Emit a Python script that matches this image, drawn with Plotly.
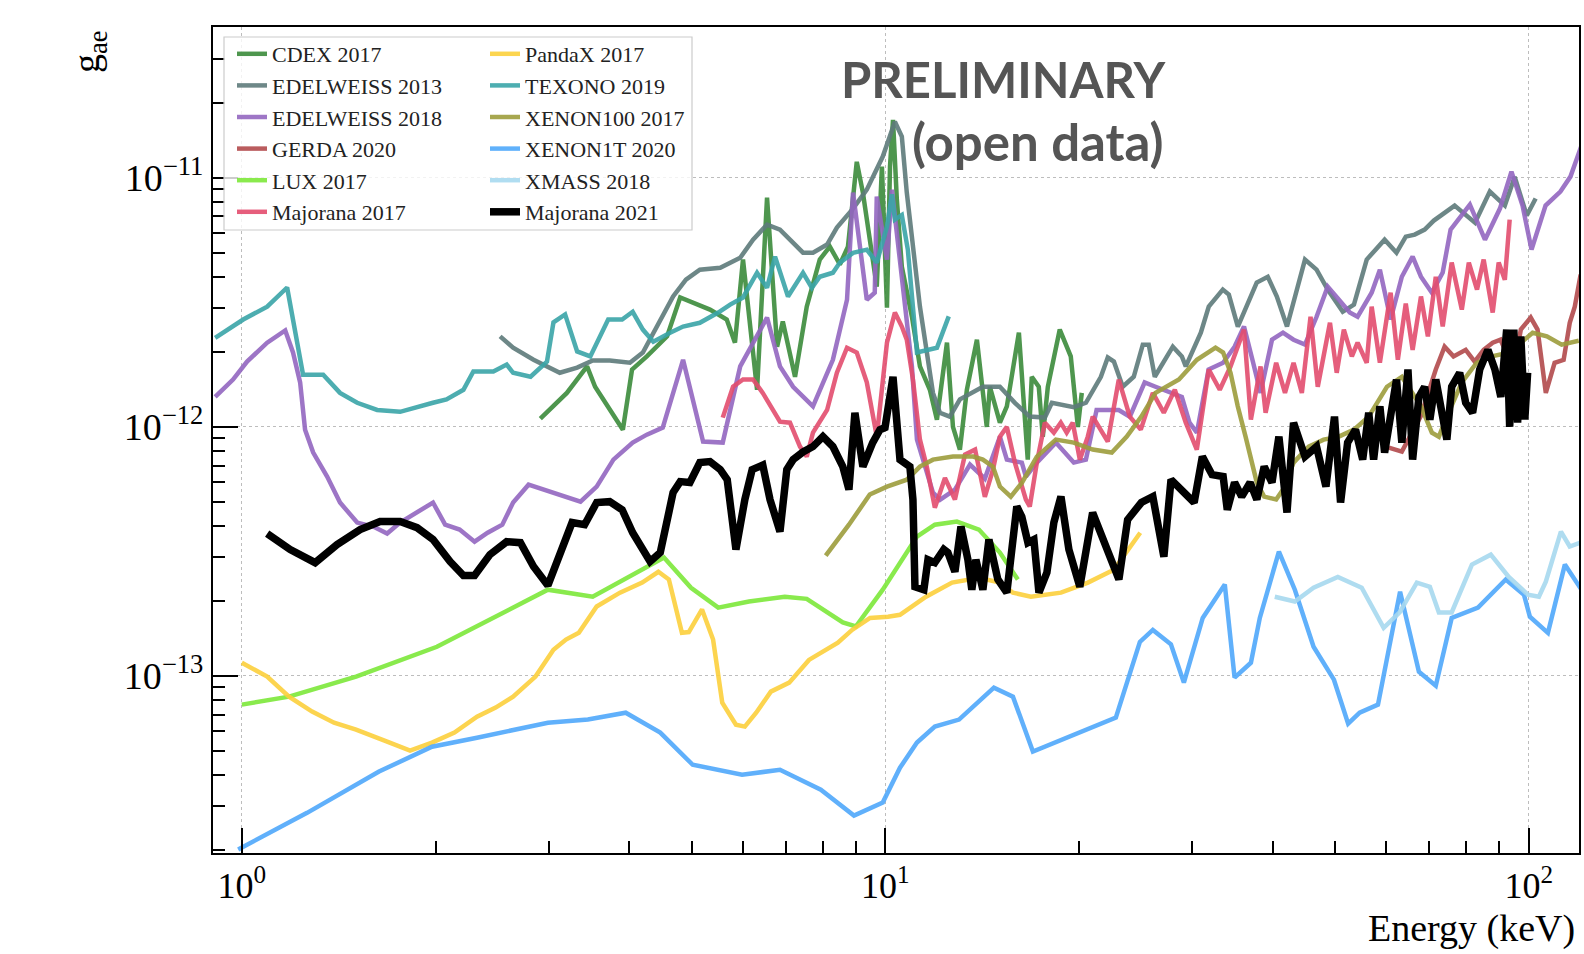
import numpy as np
import plotly.graph_objects as go

UNIT = 1e-12  # g_ae values below are given in units of 1e-12

# ---------------- data (Energy in keV, g_ae in units of 1e-12) ----------------
cdex_E = [2.91, 3.20, 3.44, 3.54, 3.91, 4.04, 4.26, 4.58, 4.80, 4.97, 5.34, 5.67, 5.84, 6.01, 6.32,
          6.55, 6.79, 6.93, 7.24, 7.55, 7.91, 8.20, 8.50, 8.75, 9.03, 9.23, 9.70, 9.88, 10.06, 10.17,
          10.28, 10.42, 10.61, 11.00, 11.32, 11.73, 12.03, 12.47, 12.74, 13.06, 13.39, 13.88, 14.38,
          14.54, 15.07, 15.45, 16.13, 16.65, 16.89, 17.32, 17.57, 17.89, 18.67, 19.42, 19.92, 20.20]
cdex_g = [1.08, 1.37, 1.75, 1.45, 0.975, 1.70, 1.92, 2.31, 3.31, 3.19, 2.96, 2.70, 2.18, 4.70, 1.41,
          8.34, 2.10, 2.65, 1.59, 3.04, 4.70, 5.30, 4.49, 5.30, 11.6, 8.73, 3.66, 11.1, 3.01, 11.1,
          17.1, 8.26, 4.40, 2.77, 1.75, 1.41, 1.07, 2.18, 1.0, 0.81, 1.41, 2.24, 1.0,
          1.45, 1.04, 1.21, 2.39, 0.739, 1.59, 1.45, 0.914, 1.45, 2.46, 1.92, 1.0, 1.37]

edel13_E = [2.52, 2.64, 2.84, 3.12, 3.32, 3.51, 3.73, 4.01, 4.20, 4.47, 4.68, 4.90, 5.15, 5.54, 5.95,
            6.23, 6.55, 6.86, 7.11, 7.45, 7.72, 8.12, 8.41, 8.91, 9.36, 9.91, 10.35, 10.61, 10.80, 11.00,
            11.32, 11.86, 12.16, 12.60, 13.06, 14.18, 15.07, 15.90, 16.77, 17.70, 18.15, 19.63, 20.50,
            21.63, 22.17, 22.66, 23.39, 24.33, 25.13, 25.67, 26.23, 27.98, 28.90, 29.31, 30.93, 31.82,
            33.46, 34.19, 35.31, 37.78, 39.30, 40.6, 42.1, 44.9, 46.8, 48.7, 51.4, 53.5, 54.8, 56.0,
            57.8, 59.7, 62.3, 64.4, 66.5, 68.9, 71.2, 76.7, 82.5, 87.0, 91.8, 95.1, 99.3, 102.5]
edel13_g = [2.31, 2.08, 1.86, 1.65, 1.73, 1.85, 1.85, 1.81, 1.99, 2.68, 3.34, 3.90, 4.28, 4.36, 4.78,
            5.65, 6.49, 6.20, 5.65, 5.01, 5.01, 5.40, 6.32, 7.53, 8.97, 12.18, 16.8, 14.65, 8.73, 5.65,
            3.04, 1.37, 1.14, 1.10, 1.29, 1.45, 1.45, 1.25, 1.10, 1.09, 1.25, 1.20, 1.25,
            1.59, 1.90, 1.83, 1.45, 1.59, 2.14, 2.14, 1.59, 2.10, 1.92, 1.75, 2.39, 3.04,
            3.56, 3.40, 2.53, 3.80, 4.01, 3.34, 2.53, 4.70, 4.28, 3.56, 2.90, 3.10, 3.80, 4.70,
            5.15, 5.65, 5.01, 5.81, 5.92, 6.20, 6.74, 7.74, 6.61, 8.81, 7.74, 10.1, 7.06, 8.26]

edel18_E = [0.909, 0.969, 1.019, 1.095, 1.168, 1.201, 1.232, 1.241, 1.254, 1.291, 1.357, 1.421, 1.511,
            1.600, 1.682, 1.762, 1.872, 1.982, 2.07, 2.18, 2.30, 2.41, 2.54, 2.64, 2.79, 3.01, 3.36,
            3.56, 3.78, 4.05, 4.26, 4.51, 4.85, 5.21, 5.59, 5.95, 6.55, 6.86, 7.19, 7.72, 8.29, 8.72,
            8.91, 9.36, 9.63, 9.70, 10.06, 10.24, 10.42, 10.61, 11.00, 11.20, 11.52, 11.86, 12.16,
            12.83, 13.54, 14.28, 15.07, 15.45, 16.30, 16.54, 17.20, 18.41, 19.63, 20.50, 21.3, 23.06,
            23.99, 25.3, 26.3, 27.8, 28.9, 29.7, 30.5, 31.8, 33.5, 34.9, 36.1, 37.3, 38.3, 39.9, 41.5,
            43.1, 44.9, 46.8, 48.7, 50.7, 52.7, 54.2, 57.0, 58.7, 61.0, 63.5, 66.0, 68.0, 70.7, 73.5,
            75.6, 81.0, 85.5, 90.2, 94.0, 97.8, 101.0, 106.2, 112.0, 116.1, 120.8]
edel18_g = [1.32, 1.55, 1.83, 2.18, 2.44, 1.99, 1.51, 1.25, 0.975, 0.789, 0.632, 0.497, 0.413,
            0.398, 0.373, 0.413, 0.453, 0.497, 0.405, 0.387, 0.346, 0.376, 0.405, 0.497, 0.586, 0.550, 0.501,
            0.576, 0.739, 0.865, 0.931, 0.994, 1.86, 0.873, 0.865, 1.75, 2.75, 1.75, 1.45, 1.21, 1.86, 3.24,
            8.73, 3.24, 3.46, 8.41, 4.70, 8.97, 6.03, 3.66, 1.75, 0.889, 0.693, 0.545, 0.510,
            0.56, 0.706, 0.62, 0.914, 0.739, 0.719, 0.632, 0.719, 0.865, 0.719, 0.739, 1.17, 1.17,
            1.10, 1.51, 1.45, 1.37, 1.32, 1.04, 0.949, 1.70, 1.81, 2.10, 2.53, 1.81, 1.37, 2.24, 2.39,
            2.24, 2.14, 2.77, 3.66, 3.24, 2.88, 2.77, 3.46, 4.28, 2.70, 4.01, 4.83, 4.01, 3.46, 4.17,
            6.20, 7.81, 5.65, 7.53, 10.6, 7.74, 5.15, 7.74, 8.81, 10.12, 13.5]

gerda_E = [60.6, 63.5, 67.9, 71.7, 74.0, 76.4, 79.8, 82.4, 85.1, 87.9, 90.4, 94.8, 97.2, 100.7, 103.2,
           106.3, 109.7, 113.3, 115.8, 117.9, 120.4]
gerda_g = [0.826, 0.796, 1.10, 1.70, 2.10, 1.92, 2.04, 1.83, 2.04, 2.18, 2.24, 1.70, 2.46, 2.75, 2.46,
           1.37, 1.81, 1.86, 2.62, 3.04, 4.09]

lux_E = [1.0, 1.184, 1.505, 2.01, 2.99, 3.51, 4.53, 4.99, 5.50, 6.14, 6.98, 7.55, 8.59, 9.00, 9.91,
         10.54, 11.20, 11.94, 12.92, 13.98, 15.07, 16.07]
lux_g = [0.0767, 0.0826, 0.0994, 0.131, 0.222, 0.208, 0.299, 0.226, 0.188, 0.199, 0.208, 0.204, 0.164,
         0.158, 0.222, 0.285, 0.363, 0.405, 0.417, 0.387, 0.313, 0.244]

maj17_E = [5.59, 5.80, 6.01, 6.23, 6.45, 6.69, 6.86, 7.11, 7.37, 7.55, 7.72, 8.12, 8.41, 8.72, 9.03,
           9.36, 9.70, 10.06, 10.35, 10.61, 10.80, 11.04, 11.32, 11.60, 11.94, 12.38, 12.83, 13.30, 13.79,
           14.28, 14.70, 15.07, 15.45, 15.90, 16.54, 16.77, 17.20, 17.70, 18.28, 18.74, 19.14, 19.56,
           20.06, 20.64, 21.01, 22.17, 23.06, 23.99, 24.95, 26.05, 27.09, 28.18, 29.31, 30.49, 31.82,
           33.1, 34.4, 36.1, 37.0, 38.3, 39.0, 40.5, 41.8, 43.1, 44.4, 45.8, 47.0, 49.1, 50.3, 51.6,
           53.1, 54.2, 56.0, 57.0, 58.7, 61.0, 62.6, 64.4, 66.0, 68.0, 69.7, 71.7, 73.5, 75.9, 78.7,
           80.7, 83.1, 85.1, 87.9, 89.8, 91.8, 93.4]
maj17_g = [1.09, 1.45, 1.55, 1.55, 1.37, 1.17, 1.05, 1.04, 0.834, 0.760, 0.949, 1.17, 1.65, 2.08, 1.99,
           1.51, 0.914, 2.18, 2.88, 2.53, 2.24, 1.55, 0.889, 0.693, 0.474, 0.624, 0.511, 0.774, 0.811,
           0.524, 0.674, 0.914, 1.0, 0.719, 0.511, 0.479, 0.719, 1.04, 0.949, 1.04, 0.949, 1.04,
           0.739, 0.914, 1.10, 0.873, 1.55, 1.10, 0.975, 1.37, 1.14, 1.41, 1.04, 0.811, 1.70,
           1.41, 1.75, 2.46, 1.07, 1.75, 1.14, 1.81, 1.37, 1.81, 1.37, 2.77, 1.45, 2.62, 1.65, 2.46,
           1.92, 2.18, 1.81, 3.04, 1.81, 3.46, 1.86, 3.13, 2.04, 3.34, 2.31, 4.01, 2.53, 4.57, 2.96,
           4.57, 3.56, 4.70, 2.88, 4.57, 3.90, 6.80]

pandax_E = [1.0, 1.095, 1.184, 1.286, 1.391, 1.505, 1.682, 1.826, 1.975, 2.14, 2.32, 2.48, 2.64, 2.86,
            3.05, 3.19, 3.34, 3.56, 3.87, 4.19, 4.44, 4.61, 4.83, 4.95, 5.19, 5.40, 5.58, 5.86, 6.05,
            6.30, 6.64, 7.09, 7.61, 8.06, 8.44, 8.88, 9.47, 10.10, 10.54, 11.57, 12.70, 13.98, 15.07,
            15.79, 16.84, 18.75, 20.65, 22.66, 24.9]
pandax_g = [0.113, 0.0994, 0.0826, 0.0719, 0.0649, 0.0609, 0.0545, 0.0501, 0.0540, 0.0592, 0.0686,
            0.0746, 0.0826, 0.0994, 0.1275, 0.140, 0.149, 0.190, 0.216, 0.237, 0.262, 0.244, 0.149,
            0.150, 0.185, 0.140, 0.0781, 0.0637, 0.0626, 0.0712, 0.0865, 0.0940, 0.116, 0.1275, 0.136,
            0.153, 0.171, 0.173, 0.176, 0.208, 0.237, 0.248, 0.237, 0.216, 0.208, 0.216, 0.237, 0.267,
            0.376]

texono_E = [0.909, 1.005, 1.095, 1.176, 1.245, 1.338, 1.421, 1.511, 1.623, 1.762, 1.982, 2.08, 2.21,
            2.29, 2.46, 2.58, 2.64, 2.81, 2.98, 3.05, 3.18, 3.32, 3.48, 3.71, 3.90, 4.05, 4.20, 4.36,
            4.63, 4.85, 5.15, 5.50, 5.74, 6.01, 6.32, 6.55, 6.74, 7.06, 7.45, 7.69, 7.91, 8.29, 8.50,
            8.91, 9.36, 9.70, 10.06, 10.24, 10.35, 10.61, 10.84, 11.20, 12.03, 12.29, 12.55]
texono_g = [2.28, 2.70, 3.04, 3.63, 1.62, 1.62, 1.37, 1.25, 1.17, 1.15, 1.25, 1.29, 1.41, 1.67, 1.67,
            1.78, 1.65, 1.59, 1.83, 2.63, 2.83, 2.01, 1.92, 2.70, 2.70, 2.90, 2.46, 2.20, 2.39, 2.53,
            2.62, 2.88, 3.10, 3.31, 4.16, 3.62, 4.83, 3.34, 4.16, 3.62, 4.01, 4.16, 4.57, 5.0, 5.15,
            4.57, 6.37, 8.6, 6.80, 7.1, 5.15, 1.99, 2.08, 2.39, 2.78]

xe100_E = [8.08, 8.78, 9.46, 10.06, 10.80, 11.32, 11.86, 12.74, 13.69, 14.18, 14.70, 15.07, 15.67, 16.30,
           17.20, 18.41, 19.63, 21.01, 22.49, 23.73, 25.0, 26.3, 28.6, 30.5, 32.6, 33.5, 34.4, 35.3,
           36.3, 37.8, 38.8, 40.5, 41.5, 43.1, 45.5, 48.0, 50.7, 53.5, 56.4, 60.2, 63.5, 68.0, 70.7,
           72.5, 74.6, 78.7, 83.0, 87.6, 93.4, 97.2, 101.4, 106.7, 112.5, 119.6]
xe100_g = [0.304, 0.405, 0.535, 0.576, 0.614, 0.693, 0.739, 0.760, 0.760, 0.739, 0.693, 0.576, 0.525,
           0.596, 0.760, 0.889, 0.865, 0.811, 0.789, 0.914, 1.10, 1.37, 1.55, 1.86, 2.08, 1.99, 1.65,
           1.21, 0.914, 0.596, 0.525, 0.511, 0.560, 0.719, 0.834, 0.889, 0.914, 0.975, 1.10, 1.45, 1.59,
           1.21, 0.949, 0.914, 1.10, 1.51, 1.81, 1.92, 1.99, 2.18, 2.39, 2.31, 2.14, 2.22]

xe1t_E = [0.987, 1.263, 1.634, 1.975, 2.32, 2.99, 3.45, 3.95, 4.47, 5.02, 5.99, 6.86, 7.94, 8.94, 9.91,
          10.54, 11.20, 11.94, 13.02, 14.75, 15.79, 16.96, 22.82, 24.87, 26.05, 27.79, 29.11, 31.14, 33.7,
          34.9, 37.0, 38.2, 40.9, 43.3, 46.3, 49.8, 52.4, 54.6, 58.3, 63.1, 67.5, 71.7, 75.9, 83.4,
          92.1, 98.3, 100.4, 107.1, 113.8, 121.3]
xe1t_g = [0.0201, 0.0282, 0.0413, 0.0520, 0.0565, 0.0649, 0.0668, 0.0712, 0.0592, 0.0440, 0.0401,
          0.0420, 0.0349, 0.0275, 0.0310, 0.0428, 0.0540, 0.0626, 0.0668, 0.0897, 0.0826, 0.0497,
          0.0680, 0.137, 0.153, 0.134, 0.0940, 0.171, 0.233, 0.0985, 0.113, 0.171, 0.316, 0.222, 0.131,
          0.0966, 0.0643, 0.0712, 0.0767, 0.218, 0.104, 0.0914, 0.171, 0.188, 0.244, 0.212, 0.173,
          0.149, 0.280, 0.218]

xmass_E = [40.3, 43.3, 46.3, 50.5, 55.0, 59.5, 63.0, 67.0, 70.2, 72.5, 75.9, 81.6, 87.3, 93.1, 99.7,
           103.7, 106.3, 112.2, 115.8, 120.4]
xmass_g = [0.208, 0.199, 0.226, 0.250, 0.226, 0.156, 0.180, 0.237, 0.228, 0.180, 0.180, 0.280, 0.307,
           0.250, 0.212, 0.208, 0.239, 0.380, 0.331, 0.343]

maj21_E = [1.095, 1.189, 1.300, 1.406, 1.527, 1.640, 1.762, 1.872, 1.982, 2.107, 2.21, 2.30, 2.43, 2.58,
           2.71, 2.84, 2.99, 3.12, 3.26, 3.41, 3.56, 3.73, 3.90, 4.05, 4.31, 4.47, 4.68, 4.80, 4.97,
           5.15, 5.34, 5.54, 5.68, 5.86, 6.05, 6.21, 6.45, 6.62, 6.86, 7.03, 7.19, 7.45, 7.72, 8.00,
           8.29, 8.59, 8.78, 8.97, 9.23, 9.56, 9.81, 9.99, 10.28, 10.54, 10.92, 11.04, 11.12, 11.48,
           11.65, 11.94, 12.33, 12.51, 12.83, 13.11, 13.44, 13.63, 13.83, 14.18, 14.49, 14.96, 15.45,
           16.01, 16.30, 16.66, 17.02, 17.33, 17.83, 18.28, 18.75, 19.29, 20.06, 21.0, 22.2, 23.07,
           23.8, 25.0, 26.05, 27.1, 27.8, 28.9, 30.2, 31.1, 32.2, 33.5, 34.0, 34.9, 35.8, 36.9, 37.8,
           38.8, 39.9, 40.9, 42.1, 43.1, 44.9, 46.8, 48.4, 49.9, 51.0, 52.3, 53.8, 55.2, 56.4, 57.4,
           58.7, 59.7, 61.0, 62.3, 63.5, 64.9, 66.0, 67.5, 68.9, 70.2, 71.7, 73.5, 74.6, 75.9, 78.1,
           79.8, 81.8, 83.9, 86.4, 88.6, 90.5, 92.4, 93.4, 94.8, 96.1, 97.2, 98.6, 99.6]
maj21_g = [0.373, 0.322, 0.285, 0.337, 0.387, 0.417, 0.417, 0.394, 0.353, 0.288, 0.253, 0.253, 0.307,
           0.346, 0.343, 0.275, 0.231, 0.307, 0.413, 0.405, 0.497, 0.501, 0.465, 0.376, 0.288, 0.313,
           0.545, 0.603, 0.598, 0.719, 0.726, 0.674, 0.614, 0.322, 0.511, 0.674, 0.703, 0.511, 0.380,
           0.674, 0.739, 0.793, 0.834, 0.914, 0.834, 0.693, 0.560, 1.14, 0.693, 0.865, 0.975, 0.994,
           1.59, 0.739, 0.693, 0.511, 0.228, 0.222, 0.293, 0.285, 0.322, 0.313, 0.262, 0.398, 0.293,
           0.222, 0.293, 0.222, 0.353, 0.244, 0.216, 0.479, 0.436, 0.343, 0.353, 0.216, 0.260, 0.413,
           0.525, 0.322, 0.228, 0.453, 0.322, 0.244, 0.424, 0.497, 0.525, 0.301, 0.614, 0.560, 0.497,
           0.760, 0.643, 0.632, 0.465, 0.598, 0.525, 0.598, 0.511, 0.693, 0.598, 0.914, 0.453, 1.04,
           0.760, 0.834, 0.576, 1.10, 0.497, 0.865, 0.975, 0.739, 1.14, 0.739, 1.21, 0.789, 1.10,
           1.55, 0.865, 1.70, 0.739, 1.32, 1.45, 1.07, 1.55, 1.10, 0.889, 1.45, 1.65, 1.25, 1.14,
           1.70, 2.04, 1.70, 1.32, 2.46, 1.0, 2.46, 1.04, 2.31, 1.07, 1.65]

# axis tick labels
x_tick_vals = [1, 10, 100]
x_tick_text = ["10<sup>0</sup>", "10<sup>1</sup>", "10<sup>2</sup>"]
y_tick_vals = [1e-13, 1e-12, 1e-11]
y_tick_text = ["10<sup>\u221213</sup>", "10<sup>\u221212</sup>", "10<sup>\u221211</sup>"]

# ---------------- styling ----------------
SERIF = "Liberation Serif, Times New Roman, serif"
series = [
    ("CDEX 2017", cdex_E, cdex_g, "#3b8b3b", 4.5, "legend"),
    ("EDELWEISS 2013", edel13_E, edel13_g, "#5e7b7b", 4.5, "legend"),
    ("EDELWEISS 2018", edel18_E, edel18_g, "#9367c0", 4.5, "legend"),
    ("GERDA 2020", gerda_E, gerda_g, "#b24a4c", 4.5, "legend"),
    ("LUX 2017", lux_E, lux_g, "#7de83a", 4.5, "legend"),
    ("Majorana 2017", maj17_E, maj17_g, "#e34d6e", 4.5, "legend"),
    ("PandaX 2017", pandax_E, pandax_g, "#fcd03c", 4.5, "legend2"),
    ("TEXONO 2019", texono_E, texono_g, "#3aa5a8", 4.5, "legend2"),
    ("XENON100 2017", xe100_E, xe100_g, "#9d9d3c", 4.5, "legend2"),
    ("XENON1T 2020", xe1t_E, xe1t_g, "#4fa8fb", 4.5, "legend2"),
    ("XMASS 2018", xmass_E, xmass_g, "#a7d9ef", 4.5, "legend2"),
    ("Majorana 2021", maj21_E, maj21_g, "#000000", 7.5, "legend2"),
]

fig = go.Figure()
for name, E, g, color, width, leg in series:
    fig.add_trace(go.Scatter(
        x=E, y=np.array(g) * UNIT, mode="lines", name=name,
        line=dict(color=color, width=width),
        opacity=1.0 if color == "#000000" else 0.9,
        legend=leg,
    ))

PLOT_L, PLOT_R, PLOT_T, PLOT_B = 213, 1579, 27, 853
W, H = 1584, 954
pw, ph = PLOT_R - PLOT_L, PLOT_B - PLOT_T


def px_x(x):
    return (x - PLOT_L) / pw


def px_y(y):
    return (PLOT_B - y) / ph


x_minor = [m * 10.0 ** d for d in (0, 1) for m in range(2, 10)]
y_minor = [m * 10.0 ** d for d in (-14, -13, -12, -11) for m in range(2, 10)]

axis_common = dict(
    showline=True, linecolor="black", linewidth=2, mirror=True,
    ticks="inside", ticklen=25, tickwidth=1.5, tickcolor="black",
    showgrid=True, gridcolor="#bdbdbd", griddash="dot", gridwidth=1.3,
    zeroline=False,
)

fig.update_xaxes(
    type="log", range=[np.log10(0.902), np.log10(119.7)],
    tickmode="array", tickvals=x_tick_vals, ticktext=x_tick_text,
    tickfont=dict(family=SERIF, size=36, color="black"),
    minor=dict(ticks="inside", ticklen=12, tickwidth=1.5, tickcolor="black",
               tickmode="array", tickvals=x_minor, showgrid=False),
    **axis_common,
)
fig.update_yaxes(
    type="log", range=[-13.711, -10.394],
    tickmode="array", tickvals=y_tick_vals, ticktext=y_tick_text,
    tickfont=dict(family=SERIF, size=38, color="black"),
    minor=dict(ticks="inside", ticklen=12, tickwidth=1.5, tickcolor="black",
               tickmode="array", tickvals=y_minor, showgrid=False),
    **axis_common,
)

legend_common = dict(
    bgcolor="rgba(0,0,0,0)", borderwidth=0,
    font=dict(family=SERIF, size=22, color="#222222"),
    xanchor="left", yanchor="top", itemwidth=30, orientation="v",
)

fig.update_layout(
    width=W, height=H,
    margin=dict(l=PLOT_L, r=W - PLOT_R, t=PLOT_T, b=H - PLOT_B, autoexpand=False),
    plot_bgcolor="white", paper_bgcolor="white",
    showlegend=True,
    legend=dict(x=px_x(232), y=px_y(33), **legend_common),
    legend2=dict(x=px_x(485), y=px_y(33), **legend_common),
    shapes=[dict(type="rect", xref="paper", yref="paper",
                 x0=px_x(224), x1=px_x(692), y0=px_y(230), y1=px_y(37),
                 line=dict(color="#cccccc", width=1.2),
                 fillcolor="rgba(255,255,255,0.8)", layer="above")],
    annotations=[
        dict(text="PRELIMINARY", x=px_x(1003), y=px_y(79), xref="paper", yref="paper",
             showarrow=False, xanchor="center", yanchor="middle",
             font=dict(family="Lato, Open Sans, sans-serif", size=49, color="#555555", weight="bold")),
        dict(text="(open data)", x=px_x(1038), y=px_y(141), xref="paper", yref="paper",
             showarrow=False, xanchor="center", yanchor="middle",
             font=dict(family="Lato, Open Sans, sans-serif", size=51, color="#555555", weight="bold")),
        dict(text="g<sub>ae</sub>", x=px_x(89), y=px_y(52), xref="paper", yref="paper",
             showarrow=False, xanchor="center", yanchor="middle", textangle=-90,
             font=dict(family=SERIF, size=38, color="black")),
        dict(text="Energy (keV)", x=px_x(1577), y=px_y(928), xref="paper", yref="paper",
             showarrow=False, xanchor="right", yanchor="middle",
             font=dict(family=SERIF, size=38, color="black")),
    ],
)

fig.write_html("out.html")
